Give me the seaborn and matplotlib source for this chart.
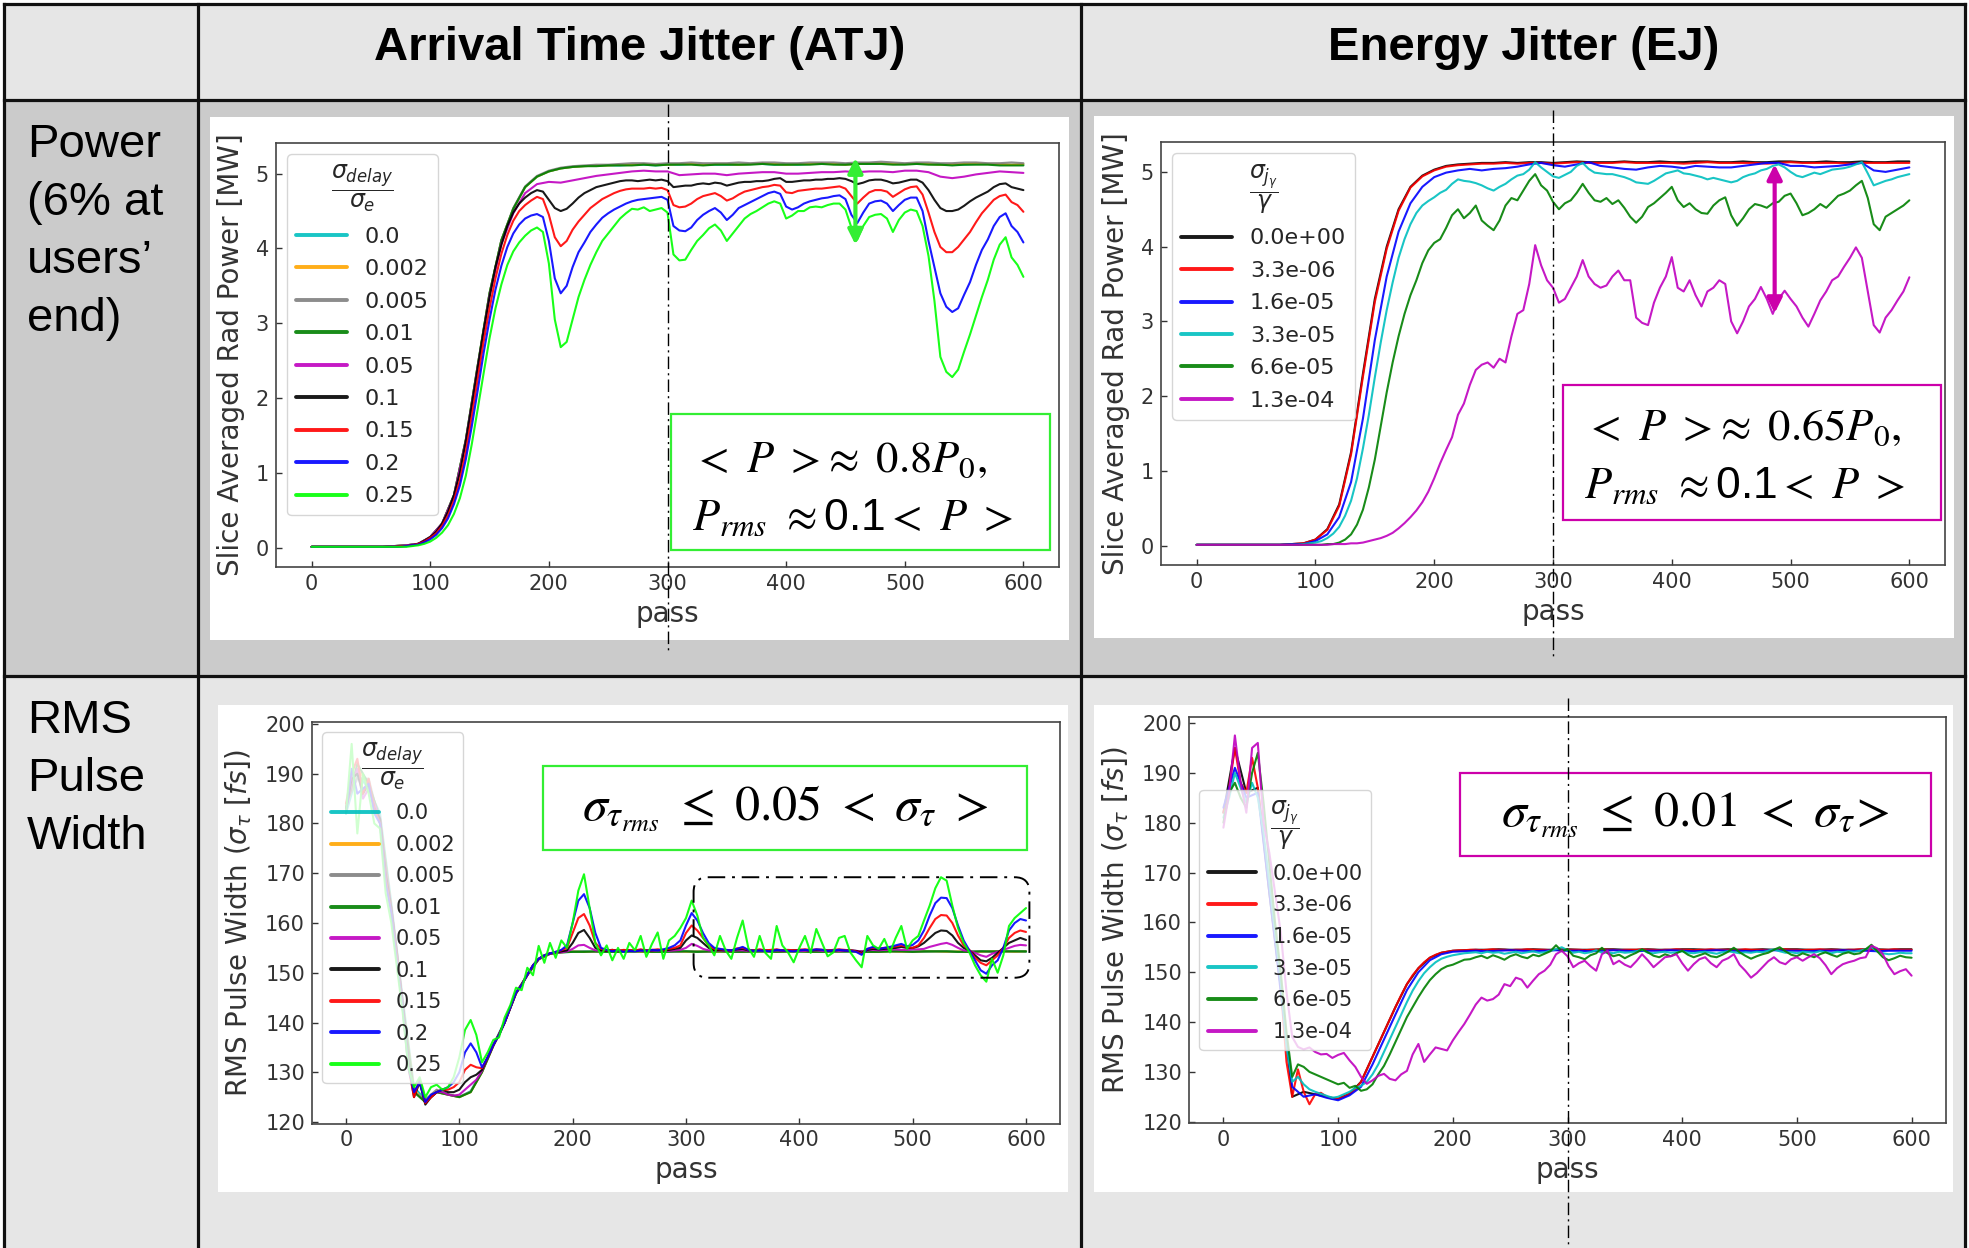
import numpy as np
import pandas as pd
import matplotlib
matplotlib.use("Agg")
import matplotlib.pyplot as plt
import matplotlib.transforms as mtransforms
from matplotlib.patches import Rectangle, FancyBboxPatch
from matplotlib.lines import Line2D
import seaborn as sns

W, H = 1969, 1248

# ---------------------------------------------------------------- x grids
pass_10 = np.arange(0, 601, 10)
pass_5 = np.arange(0, 601, 5)

# ---------------------------------------------------------------- series names / colours
atj_labels = ["0.0", "0.002", "0.005", "0.01", "0.05", "0.1", "0.15", "0.2", "0.25"]
atj_colors = ["#00bfbf", "#ffa500", "#808080", "#008000", "#bf00bf", "#000000", "#ff0000", "#0000ff", "#00ff00"]
ej_labels = ["0.0e+00", "3.3e-06", "1.6e-05", "3.3e-05", "6.6e-05", "1.3e-04"]
ej_colors = ["#000000", "#ff0000", "#0000ff", "#00bfbf", "#008000", "#bf00bf"]

# ---------------------------------------------------------------- ATJ: slice averaged power [MW]
atj_pw_0_0 = [0.01, 0.01, 0.01, 0.01, 0.01, 0.01, 0.01, 0.02, 0.03,
              0.05, 0.14, 0.32, 0.70, 1.44, 2.43, 3.40, 4.11, 4.53, 4.82, 4.96, 5.03, 5.07, 5.09, 5.10, 5.11, 5.11,
              5.11, 5.12, 5.12, 5.11, 5.12, 5.12, 5.13, 5.12, 5.12, 5.12, 5.12, 5.13, 5.13, 5.12, 5.12, 5.12, 5.13,
              5.13, 5.13, 5.12, 5.13, 5.13, 5.14, 5.13, 5.13, 5.13, 5.13, 5.12, 5.12, 5.12, 5.13, 5.13, 5.12, 5.12, 5.12]
atj_pw_0_002 = [0.01, 0.01, 0.01, 0.01, 0.01, 0.01, 0.01, 0.02, 0.03,
                0.05, 0.14, 0.32, 0.70, 1.44, 2.43, 3.40, 4.11, 4.53, 4.82, 4.96, 5.03, 5.07, 5.09, 5.10, 5.11, 5.11,
                5.12, 5.12, 5.13, 5.12, 5.12, 5.13, 5.13, 5.12, 5.13, 5.13, 5.12, 5.13, 5.14, 5.13, 5.12, 5.13, 5.13,
                5.14, 5.13, 5.12, 5.13, 5.14, 5.14, 5.13, 5.13, 5.14, 5.13, 5.12, 5.13, 5.13, 5.14, 5.13, 5.13, 5.12, 5.13]
atj_pw_0_005 = [0.01, 0.01, 0.01, 0.01, 0.01, 0.01, 0.01, 0.02, 0.03,
                0.05, 0.14, 0.32, 0.70, 1.44, 2.43, 3.40, 4.11, 4.54, 4.83, 4.97, 5.04, 5.08, 5.10, 5.11, 5.12, 5.12,
                5.13, 5.14, 5.14, 5.13, 5.14, 5.14, 5.15, 5.14, 5.14, 5.14, 5.15, 5.14, 5.15, 5.15, 5.14, 5.14, 5.15,
                5.15, 5.15, 5.14, 5.15, 5.15, 5.16, 5.15, 5.14, 5.15, 5.15, 5.14, 5.14, 5.15, 5.15, 5.14, 5.14, 5.15, 5.14]
atj_pw_0_01 = [0.01, 0.01, 0.01, 0.01, 0.01, 0.01, 0.01, 0.02, 0.03,
               0.05, 0.14, 0.32, 0.70, 1.44, 2.43, 3.40, 4.11, 4.53, 4.82, 4.96, 5.03, 5.07, 5.09, 5.10, 5.10, 5.11,
               5.11, 5.11, 5.12, 5.11, 5.12, 5.12, 5.12, 5.11, 5.12, 5.12, 5.12, 5.12, 5.13, 5.12, 5.12, 5.12, 5.12,
               5.13, 5.12, 5.12, 5.13, 5.13, 5.13, 5.12, 5.12, 5.13, 5.12, 5.12, 5.11, 5.12, 5.12, 5.12, 5.11, 5.11, 5.11]
atj_pw_0_05 = [0.01, 0.01, 0.01, 0.01, 0.01, 0.01, 0.01, 0.02, 0.03,
               0.05, 0.14, 0.32, 0.69, 1.42, 2.40, 3.36, 4.06, 4.47, 4.74, 4.86, 4.89, 4.88, 4.91, 4.94, 4.97, 4.99,
               5.01, 5.03, 5.04, 5.03, 5.03, 4.98, 4.99, 5.00, 5.00, 4.98, 5.00, 5.01, 5.02, 5.02, 5.00, 5.00, 5.01,
               5.02, 5.02, 5.03, 5.02, 5.03, 5.03, 5.02, 5.04, 5.04, 5.02, 4.96, 4.94, 4.96, 4.99, 5.01, 5.03, 5.02, 5.01]
atj_pw_0_1 = [0.01, 0.01, 0.01, 0.01, 0.01, 0.01, 0.01, 0.01, 0.01, 0.01, 0.01, 0.01, 0.01, 0.01, 0.01, 0.02, 0.02, 0.03,
              0.05, 0.09, 0.14, 0.21, 0.32, 0.48, 0.70, 1.00, 1.42, 1.90, 2.40, 2.90, 3.35, 3.75, 4.05, 4.30, 4.48,
              4.60, 4.68, 4.74, 4.78, 4.76, 4.65, 4.54, 4.50, 4.53, 4.60, 4.68, 4.74, 4.78, 4.82, 4.84, 4.86, 4.88,
              4.90, 4.91, 4.91, 4.90, 4.91, 4.92, 4.91, 4.92, 4.90,
              4.82, 4.83, 4.84, 4.84, 4.86, 4.87, 4.86, 4.88, 4.87, 4.84,
              4.86, 4.88, 4.89, 4.89, 4.90, 4.90, 4.91, 4.93, 4.94, 4.89,
              4.89, 4.90, 4.91, 4.91, 4.92, 4.92, 4.93, 4.93, 4.94, 4.93,
              4.90, 4.86, 4.88, 4.91, 4.92, 4.92, 4.90, 4.87, 4.88, 4.90,
              4.92, 4.92, 4.88, 4.78, 4.65, 4.54, 4.50, 4.50, 4.52, 4.57,
              4.63, 4.68, 4.72, 4.76, 4.82, 4.86, 4.87, 4.82, 4.80, 4.78]
atj_pw_0_15 = [0.01, 0.01, 0.01, 0.01, 0.01, 0.01, 0.01, 0.01, 0.01, 0.01, 0.01, 0.01, 0.01, 0.01, 0.01, 0.02, 0.02, 0.03,
               0.05, 0.08, 0.13, 0.19, 0.29, 0.43, 0.63, 0.90, 1.28, 1.75, 2.25, 2.75, 3.20, 3.60, 3.93, 4.18, 4.37,
               4.50, 4.58, 4.64, 4.69, 4.66, 4.45, 4.15, 4.03, 4.10, 4.25, 4.36, 4.45, 4.54, 4.60, 4.66, 4.70, 4.74,
               4.77, 4.79, 4.80, 4.80, 4.80, 4.81, 4.80, 4.81, 4.78,
               4.58, 4.55, 4.56, 4.60, 4.66, 4.70, 4.72, 4.74, 4.70, 4.64,
               4.67, 4.72, 4.76, 4.78, 4.80, 4.82, 4.83, 4.85, 4.84, 4.75,
               4.74, 4.77, 4.78, 4.79, 4.80, 4.80, 4.81, 4.82, 4.83, 4.80,
               4.70, 4.60, 4.68, 4.75, 4.78, 4.78, 4.76, 4.69, 4.74, 4.79,
               4.82, 4.83, 4.72, 4.48, 4.22, 4.02, 3.95, 3.95, 4.02, 4.12,
               4.22, 4.35, 4.47, 4.56, 4.65, 4.70, 4.72, 4.62, 4.58, 4.49]
atj_pw_0_2 = [0.01, 0.01, 0.01, 0.01, 0.01, 0.01, 0.01, 0.01, 0.01, 0.01, 0.01, 0.01, 0.01, 0.01, 0.01, 0.01, 0.02, 0.03,
              0.04, 0.07, 0.11, 0.17, 0.26, 0.39, 0.58, 0.83, 1.18, 1.62, 2.10, 2.60, 3.05, 3.45, 3.77, 4.02, 4.20,
              4.32, 4.40, 4.44, 4.46, 4.42, 4.10, 3.60, 3.40, 3.50, 3.75, 3.95, 4.08, 4.22, 4.32, 4.41, 4.47, 4.52,
              4.56, 4.60, 4.63, 4.65, 4.66, 4.67, 4.68, 4.69, 4.65,
              4.30, 4.24, 4.23, 4.28, 4.38, 4.45, 4.50, 4.54, 4.48, 4.38,
              4.45, 4.54, 4.58, 4.62, 4.66, 4.70, 4.74, 4.76, 4.73, 4.56,
              4.52, 4.55, 4.60, 4.63, 4.65, 4.67, 4.68, 4.70, 4.71, 4.66,
              4.45, 4.34, 4.48, 4.60, 4.63, 4.64, 4.60, 4.50, 4.58, 4.65,
              4.68, 4.68, 4.50, 4.10, 3.75, 3.40, 3.22, 3.15, 3.20, 3.38,
              3.55, 3.78, 3.98, 4.12, 4.30, 4.42, 4.47, 4.30, 4.22, 4.08]
atj_pw_0_25 = [0.01, 0.01, 0.01, 0.01, 0.01, 0.01, 0.01, 0.01, 0.01, 0.01, 0.01, 0.01, 0.01, 0.01, 0.01, 0.01, 0.01, 0.02,
               0.03, 0.05, 0.08, 0.13, 0.20, 0.30, 0.45, 0.66, 0.96, 1.38, 1.85, 2.33, 2.80, 3.20, 3.52, 3.78, 3.96,
               4.08, 4.17, 4.24, 4.28, 4.22, 3.80, 3.05, 2.68, 2.75, 3.05, 3.35, 3.58, 3.78, 3.95, 4.10, 4.20, 4.30,
               4.40, 4.47, 4.53, 4.52, 4.55, 4.50, 4.52, 4.54, 4.48,
               3.92, 3.84, 3.85, 3.98, 4.10, 4.18, 4.27, 4.32, 4.24, 4.10,
               4.20, 4.30, 4.40, 4.46, 4.50, 4.55, 4.60, 4.63, 4.60, 4.40,
               4.44, 4.50, 4.50, 4.55, 4.56, 4.55, 4.58, 4.60, 4.60, 4.52,
               4.28, 4.12, 4.30, 4.42, 4.45, 4.46, 4.40, 4.22, 4.38, 4.48,
               4.52, 4.50, 4.30, 3.90, 3.30, 2.55, 2.35, 2.28, 2.38, 2.62,
               2.85, 3.10, 3.35, 3.58, 3.85, 4.05, 4.15, 3.88, 3.78, 3.62]

# ---------------------------------------------------------------- EJ: slice averaged power [MW]
ej_pw_0 = [0.01, 0.01, 0.01, 0.01, 0.01, 0.01, 0.01, 0.01, 0.02,
           0.03, 0.08, 0.22, 0.55, 1.25, 2.30, 3.30, 4.00, 4.50, 4.80, 4.95, 5.03, 5.08, 5.10, 5.11, 5.12, 5.12,
           5.13, 5.12, 5.13, 5.13, 5.12, 5.13, 5.14, 5.13, 5.13, 5.13, 5.14, 5.13, 5.13, 5.14, 5.13, 5.13, 5.14,
           5.14, 5.13, 5.13, 5.14, 5.13, 5.13, 5.14, 5.14, 5.13, 5.13, 5.14, 5.13, 5.13, 5.14, 5.13, 5.13, 5.14, 5.14]
ej_pw_3_3e6 = [0.01, 0.01, 0.01, 0.01, 0.01, 0.01, 0.01, 0.01, 0.02,
               0.03, 0.08, 0.21, 0.53, 1.22, 2.26, 3.26, 3.97, 4.48, 4.79, 4.94, 5.02, 5.07, 5.09, 5.10, 5.11, 5.11,
               5.12, 5.11, 5.12, 5.12, 5.11, 5.12, 5.13, 5.12, 5.12, 5.12, 5.13, 5.12, 5.12, 5.12, 5.12, 5.11, 5.12,
               5.13, 5.12, 5.12, 5.12, 5.12, 5.11, 5.12, 5.13, 5.12, 5.12, 5.12, 5.12, 5.11, 5.12, 5.12, 5.12, 5.12, 5.12]
ej_pw_1_6e5 = [0.01, 0.01, 0.01, 0.01, 0.01, 0.01, 0.01, 0.01, 0.02,
               0.02, 0.06, 0.15, 0.38, 0.85, 1.70, 2.75, 3.60, 4.20, 4.58, 4.80, 4.93, 4.99, 5.02, 5.04, 5.02, 5.04,
               5.05, 5.07, 5.10, 5.12, 5.09, 5.07, 5.10, 5.13, 5.08, 5.06, 5.04, 5.03, 5.06, 5.08, 5.07, 5.05, 5.08,
               5.07, 5.06, 5.06, 5.08, 5.10, 5.12, 5.12, 5.08, 5.08, 5.06, 5.07, 5.08, 5.10, 5.12, 5.02, 5.00, 5.03, 5.06]
ej_pw_3_3e5 = [0.01, 0.01, 0.01, 0.01, 0.01, 0.01, 0.01, 0.01, 0.01, 0.01, 0.01, 0.01, 0.01, 0.01, 0.01, 0.01, 0.01, 0.01,
               0.02, 0.03,
               0.04, 0.06, 0.10, 0.16, 0.25, 0.40, 0.60, 0.90, 1.30, 1.75, 2.25, 2.72, 3.15, 3.52, 3.85, 4.10, 4.30,
               4.45, 4.55, 4.61,
               4.66, 4.72, 4.76, 4.84, 4.90, 4.88, 4.87, 4.85, 4.82, 4.78,
               4.75, 4.80, 4.84, 4.90, 4.95, 4.97, 5.03, 5.13, 5.06, 5.00,
               4.94, 4.92, 4.96, 5.00, 5.08, 5.12, 5.04, 4.99, 4.98, 4.97,
               4.97, 4.95, 4.93, 4.90, 4.86, 4.85, 4.84, 4.88, 4.93, 4.98,
               5.00, 5.02, 4.98, 4.97, 4.95, 4.93, 4.90, 4.92, 4.90, 4.88,
               4.86, 4.88, 4.93, 4.96, 4.98, 5.02, 5.04, 5.08, 5.10, 5.06,
               5.00, 4.95, 4.93, 4.96, 4.99, 4.97, 5.00, 5.03, 5.04, 5.05,
               5.07, 5.10, 5.13, 4.98, 4.82, 4.85, 4.88, 4.90, 4.93, 4.95,
               4.97]
ej_pw_6_6e5 = [0.01, 0.01, 0.01, 0.01, 0.01, 0.01, 0.01, 0.01, 0.01, 0.01, 0.01, 0.01, 0.01, 0.01, 0.01, 0.01, 0.01, 0.01,
               0.01, 0.01,
               0.01, 0.01, 0.02, 0.02, 0.04, 0.08, 0.15, 0.28, 0.48, 0.78, 1.15, 1.60, 2.05, 2.45, 2.80, 3.10, 3.35,
               3.55, 3.78, 3.95,
               4.05, 4.10, 4.25, 4.42, 4.50, 4.38, 4.45, 4.55, 4.35, 4.28,
               4.22, 4.35, 4.55, 4.65, 4.62, 4.75, 4.88, 4.97, 4.82, 4.75,
               4.60, 4.50, 4.58, 4.62, 4.72, 4.84, 4.72, 4.62, 4.60, 4.65,
               4.57, 4.62, 4.52, 4.40, 4.32, 4.40, 4.53, 4.58, 4.65, 4.72,
               4.80, 4.62, 4.53, 4.58, 4.50, 4.45, 4.44, 4.55, 4.62, 4.66,
               4.42, 4.28, 4.38, 4.50, 4.57, 4.55, 4.52, 4.58, 4.60, 4.68,
               4.71, 4.58, 4.42, 4.45, 4.50, 4.57, 4.52, 4.60, 4.68, 4.71,
               4.75, 4.82, 4.88, 4.65, 4.30, 4.22, 4.40, 4.45, 4.50, 4.55,
               4.62]
ej_pw_1_3e4 = [0.01, 0.01, 0.01, 0.01, 0.01, 0.01, 0.01, 0.01, 0.01, 0.01, 0.01, 0.01, 0.01, 0.01, 0.01, 0.01, 0.01, 0.01,
               0.01, 0.01,
               0.01, 0.01, 0.01, 0.02, 0.02, 0.02, 0.03, 0.03, 0.04, 0.06, 0.08, 0.10, 0.13, 0.17, 0.23, 0.30, 0.38,
               0.47, 0.58, 0.72,
               0.90, 1.10, 1.28, 1.45, 1.75, 1.90, 2.15, 2.35, 2.42, 2.45,
               2.38, 2.50, 2.45, 2.80, 3.10, 3.15, 3.50, 4.02, 3.75, 3.55,
               3.45, 3.25, 3.30, 3.45, 3.60, 3.82, 3.60, 3.50, 3.45, 3.48,
               3.60, 3.68, 3.55, 3.55, 3.05, 2.98, 2.95, 3.25, 3.45, 3.60,
               3.86, 3.45, 3.40, 3.55, 3.35, 3.20, 3.40, 3.45, 3.55, 3.50,
               3.00, 2.84, 3.00, 3.20, 3.30, 3.46, 3.30, 3.10, 3.30, 3.41,
               3.30, 3.20, 3.05, 2.93, 3.10, 3.28, 3.40, 3.55, 3.60, 3.73,
               3.85, 3.99, 3.85, 3.40, 2.95, 2.85, 3.05, 3.15, 3.28, 3.40,
               3.59]

# ---------------------------------------------------------------- ATJ: RMS pulse width [fs]
atj_rms_0_0 = [182, 190, 187, 182, 164, 145, 127, 124.5, 126, 125.5,
               125, 126.2, 130.2, 135.5, 140.2, 146, 149.6, 152.8, 153.8, 154.1,
               154.2, 154.3, 154.2, 154.2, 154.3, 154.2, 154.3, 154.3, 154.2, 154.2,
               154.3, 154.2, 154.2, 154.3, 154.3, 154.2, 154.2, 154.3, 154.2, 154.3,
               154.2, 154.3, 154.3, 154.2, 154.2, 154.3, 154.3, 154.2, 154.3, 154.2,
               154.3, 154.2, 154.3, 154.3, 154.2, 154.2, 154.3, 154.2, 154.3, 154.3,
               154.2]
atj_rms_0_002 = [183, 191, 188, 181, 163, 144, 126.5, 124, 126, 125.5,
                 125, 126, 130, 135.3, 140, 145.8, 149.5, 152.7, 153.8, 154.1,
                 154.3, 154.2, 154.2, 154.3, 154.2, 154.3, 154.2, 154.2, 154.3, 154.3,
                 154.2, 154.3, 154.2, 154.2, 154.3, 154.2, 154.3, 154.3, 154.2, 154.2,
                 154.3, 154.2, 154.3, 154.2, 154.3, 154.3, 154.2, 154.2, 154.3, 154.2,
                 154.2, 154.3, 154.3, 154.2, 154.3, 154.2, 154.2, 154.3, 154.3, 154.2,
                 154.3]
atj_rms_0_005 = [184, 189, 189, 180, 162, 143, 126, 124.5, 126.5, 125.6,
                 125.1, 126.1, 130.1, 135.4, 140.1, 145.9, 149.6, 152.8, 153.9, 154.2,
                 154.3, 154.3, 154.2, 154.3, 154.3, 154.2, 154.3, 154.3, 154.3, 154.2,
                 154.3, 154.3, 154.2, 154.3, 154.3, 154.3, 154.2, 154.3, 154.3, 154.2,
                 154.3, 154.3, 154.3, 154.2, 154.3, 154.3, 154.2, 154.3, 154.3, 154.3,
                 154.2, 154.3, 154.3, 154.3, 154.2, 154.3, 154.3, 154.2, 154.3, 154.3,
                 154.3]
atj_rms_0_01 = [183, 192, 188, 181, 163, 144, 126, 124, 126, 125.5,
                125, 126, 130, 135.3, 140, 145.8, 149.5, 152.7, 153.8, 154.1,
                154.2, 154.2, 154.3, 154.2, 154.2, 154.3, 154.3, 154.2, 154.2, 154.3,
                154.3, 154.2, 154.3, 154.3, 154.2, 154.2, 154.3, 154.3, 154.2, 154.3,
                154.3, 154.2, 154.2, 154.3, 154.3, 154.3, 154.2, 154.2, 154.3, 154.3,
                154.2, 154.3, 154.3, 154.3, 154.2, 154.2, 154.3, 154.3, 154.3, 154.3,
                154.3]
atj_rms_0_05 = [183, 188, 191, 185, 187, 184, 181, 171, 163, 154, 144, 132, 126, 128, 124, 125, 126, 126, 125.5, 125.3,
                125.5, 126.5, 127.5, 128.5, 130.3, 133, 135.4, 137.5, 140, 143, 145.9, 147.6, 149.5, 151.4, 152.7,
                153.4, 153.8, 154, 154.1, 154.3,
                154.8, 155.5, 155.6, 155.0, 154.5, 154.4, 154.4, 154.5, 154.4, 154.4,
                154.5, 154.4, 154.4, 154.5, 154.4, 154.5, 154.5, 154.4, 154.5, 154.6,
                155.0, 155.8, 155.4, 154.8, 154.5, 154.4, 154.5, 154.4, 154.4, 154.5,
                154.5, 154.4, 154.4, 154.5, 154.4, 154.4, 154.5, 154.4, 154.4, 154.5,
                154.4, 154.4, 154.5, 154.5, 154.4, 154.4, 154.5, 154.4, 154.4, 154.5,
                154.4, 154.3, 154.5, 154.6, 154.5, 154.6, 154.6, 154.7, 154.6, 154.6,
                154.7, 154.7, 154.8, 155.2, 155.5, 155.8, 156.0, 155.6, 155.0, 154.5,
                154.4, 154.0, 153.5, 153.2, 153.8, 154.2, 154.6, 155.0, 155.4, 155.6,
                155.5]
atj_rms_0_1 = [183, 189, 190, 186, 188, 183, 181, 170, 163, 154, 144, 132, 125, 128, 123.5, 125, 126, 126.5, 126, 126,
               126.5, 128, 129, 129.5, 130.5, 133, 135.5, 137.5, 140, 143, 146, 147.6, 149.6, 151.5, 152.8, 153.5,
               153.9, 154.1, 154.3, 154.5,
               156.0, 158.0, 158.6, 157.0, 155.0, 154.5, 154.4, 154.6, 154.4, 154.5,
               154.5, 154.4, 154.6, 154.5, 154.5, 154.6, 154.5, 154.6, 154.8, 155.0,
               156.5, 157.5, 157.0, 156.0, 155.0, 154.5, 154.6, 154.5, 154.5, 154.7,
               154.8, 154.5, 154.5, 154.6, 154.5, 154.5, 154.6, 154.5, 154.5, 154.5,
               154.6, 154.6, 154.5, 154.6, 154.6, 154.5, 154.5, 154.6, 154.5, 154.5,
               154.4, 154.0, 154.6, 154.8, 154.7, 154.8, 154.9, 155.0, 155.2, 155.0,
               155.0, 155.3, 156.0, 157.0, 158.0, 158.5, 158.4, 157.5, 156.0, 155.0,
               154.5, 153.5, 152.5, 152.3, 153.0, 154.0, 155.0, 156.0, 156.5, 157.0,
               156.6]
atj_rms_0_15 = [184, 190, 193, 186, 189, 183, 180, 169, 162, 153, 143, 131, 125, 128.5, 123.8, 125, 126, 126.5, 126.5, 127,
                128, 130.5, 131.5, 131, 130.8, 133, 135.5, 137.6, 140, 143, 146, 147.6, 149.6, 151.5, 152.8, 153.5,
                153.9, 154.2, 154.5, 155.0,
                158.0, 161.0, 161.8, 159.5, 156.0, 154.8, 154.5, 154.6, 154.4, 154.6,
                154.5, 154.5, 154.7, 154.5, 154.6, 154.7, 154.6, 154.8, 155.0, 155.5,
                158.0, 159.5, 158.5, 157.0, 155.5, 154.8, 154.7, 154.6, 154.5, 154.9,
                155.0, 154.6, 154.5, 154.7, 154.5, 154.6, 154.7, 154.5, 154.6, 154.5,
                154.6, 154.7, 154.6, 154.7, 154.6, 154.5, 154.6, 154.7, 154.6, 154.5,
                154.3, 153.8, 154.8, 155.0, 154.9, 155.0, 155.1, 155.3, 155.5, 155.2,
                155.0, 155.5, 157.0, 159.0, 160.8, 161.6, 161.5, 160.0, 157.5, 155.5,
                154.6, 153.0, 152.0, 151.5, 152.5, 153.5, 155.0, 157.0, 158.0, 158.5,
                158.2]
atj_rms_0_2 = [182, 191, 186, 187, 188, 182, 180, 168, 162, 152, 143, 131, 126, 128, 124, 125.5, 126, 126.5, 127, 128,
               130, 134, 135.8, 134, 131, 133, 135.5, 137.5, 140, 143, 146, 147.5, 149.6, 151.5, 152.8, 153.5, 153.9,
               154.2, 154.6, 155.5,
               160.0, 164.5, 165.8, 163.0, 158.0, 155.0, 154.6, 154.3, 154.5, 154.2,
               154.4, 154.3, 154.5, 154.4, 154.6, 154.5, 154.7, 155.0, 155.5, 156.5,
               159.5, 162.0, 160.5, 158.0, 156.0, 155.0, 154.8, 154.6, 154.5, 154.8,
               155.2, 154.6, 154.4, 154.5, 154.4, 154.3, 154.6, 154.5, 154.4, 154.3,
               154.5, 154.6, 154.5, 154.7, 154.6, 154.4, 154.5, 154.6, 154.5, 154.4,
               154.2, 153.6, 154.8, 155.2, 154.8, 155.0, 155.2, 155.5, 155.8, 155.3,
               155.6, 156.5, 158.5, 161.5, 164.0, 165.1, 165.0, 163.0, 159.5, 156.5,
               154.5, 152.5, 150.5, 149.8, 151.5, 152.5, 155.0, 158.5, 160.0, 160.8,
               160.5]
atj_rms_0_25 = [182, 196, 178, 190, 186, 180, 179, 166, 160, 151, 142, 131, 127, 129, 125, 127, 127.5, 126.5, 127, 129,
                133, 138.5, 140.5, 137.5, 132, 134, 136.5, 137, 141, 143.5, 147, 146.5, 151, 149.5, 155.4, 152, 156,
                153, 156.5, 155,
                160.0, 166.5, 169.8, 163.0, 156.0, 153.5, 155.5, 152.5, 155.0, 152.8,
                156.0, 154.5, 157.4, 153.2, 155.8, 158.1, 152.8, 156.5, 157.4, 159.0,
                161.0, 164.5, 161.5, 157.0, 155.5, 153.5, 157.4, 154.5, 152.8, 157.0,
                160.5, 155.0, 153.2, 157.4, 154.0, 152.8, 159.4, 155.5, 154.1, 152.1,
                155.0, 157.4, 154.0, 158.8, 156.0, 153.3, 154.1, 157.0, 157.4, 154.1,
                152.5, 151.1, 157.4, 155.5, 154.8, 156.8, 154.1, 157.0, 159.4, 154.8,
                156.5, 157.4, 160.5, 163.5, 167.0, 169.2, 168.5, 163.5, 159.0, 156.0,
                154.1, 151.5, 149.5, 148.2, 152.8, 150.0, 153.5, 159.4, 161.0, 162.0,
                163.0]

# ---------------------------------------------------------------- EJ: RMS pulse width [fs]
ej_rms_0 = [182, 195, 186, 187, 166, 147, 125, 126, 125.5, 125,
            124.6, 125.6, 128, 133, 138, 143, 147.6, 150.8, 152.9, 153.9,
            154.3, 154.4, 154.5, 154.5, 154.6, 154.5, 154.5, 154.6, 154.5, 154.5,
            154.6, 154.5, 154.5, 154.6, 154.6, 154.5, 154.5, 154.6, 154.5, 154.5,
            154.6, 154.6, 154.5, 154.5, 154.6, 154.5, 154.5, 154.6, 154.5, 154.6,
            154.6, 154.5, 154.5, 154.6, 154.5, 154.5, 154.6, 154.6, 154.5, 154.6,
            154.6]
ej_rms_3_3e6 = [182, 187, 195, 188, 186, 193, 187, 177, 167, 157, 147, 132, 125, 130.5, 126, 123.5, 125.5, 125.8, 125,
                124.6, 124.6, 125, 125.6, 126.5, 128, 130.5, 133, 135.5, 138, 140.5, 143, 145.4, 147.6, 149.4, 150.8,
                152, 152.9, 153.5, 153.9, 154.1, 154.3, 154.4, 154.4,
                154.5, 154.5, 154.4, 154.5, 154.6, 154.5, 154.5, 154.4, 154.5, 154.5,
                154.6, 154.5, 154.5, 154.5, 154.4, 154.5, 154.6, 154.5, 154.5, 154.5,
                154.4, 154.5, 154.5, 154.6, 154.5, 154.5, 154.4, 154.5, 154.5, 154.5,
                154.6, 154.5, 154.5, 154.4, 154.5, 154.5, 154.6, 154.5, 154.5, 154.4,
                154.5, 154.5, 154.6, 154.5, 154.5, 154.5, 154.4, 154.5, 154.6, 154.5,
                154.5, 154.5, 154.4, 154.5, 154.5, 154.6, 154.5, 154.5, 154.4, 154.5,
                154.5, 154.6, 154.5, 154.5, 154.5, 154.4, 154.5, 154.5, 154.6, 154.5,
                154.5, 154.4, 154.5, 154.5, 154.6, 154.5, 154.5, 154.5]
ej_rms_1_6e5 = [183, 191, 185, 186, 166, 146, 127, 125, 125.5, 124.8,
                124.3, 125.3, 127, 131.5, 136.5, 141.5, 146.4, 150, 152.4, 153.6,
                154.1, 154.2, 154.3, 154.2, 154.3, 154.4, 154.3, 154.2, 154.3, 154.4,
                154.3, 154.3, 154.2, 154.3, 154.4, 154.3, 154.2, 154.3, 154.3, 154.4,
                154.3, 154.2, 154.3, 154.4, 154.3, 154.3, 154.2, 154.3, 154.4, 154.3,
                154.3, 154.2, 154.3, 154.3, 154.4, 154.3, 154.3, 154.2, 154.3, 154.3,
                154.3]
ej_rms_3_3e5 = [181, 185, 190, 187, 184, 188, 185, 178, 168, 158, 148, 135, 128, 129, 127.5, 126.5, 126, 125.6, 125.2,
                124.8,
                125, 125.5, 126, 126.8, 127.2, 128, 129.5, 131.5, 134, 136.5, 139, 141.5, 144, 146.3, 148.2, 149.8,
                151, 152, 152.7, 153.1,
                153.4, 153.6, 153.8, 153.9, 154.0, 153.8, 154.1, 153.9, 154.0, 153.7,
                153.9, 154.1, 153.8, 154.0, 154.2, 153.9, 154.0, 154.3, 154.6, 155.0,
                154.4, 153.9, 154.1, 153.8, 154.0, 154.4, 153.9, 154.0, 153.8, 154.1,
                153.9, 154.0, 154.2, 154.5, 153.9, 153.8, 154.0, 154.1, 153.9, 154.0,
                154.2, 153.9, 153.8, 154.0, 154.1, 153.9, 153.7, 154.0, 154.2, 154.0,
                153.8, 154.0, 153.9, 154.1, 154.0, 154.3, 154.6, 154.2, 153.9, 154.0,
                153.8, 154.1, 154.0, 153.9, 154.2, 154.0, 153.8, 154.1, 154.0, 154.2,
                154.1, 154.3, 154.6, 155.0, 154.2, 153.8, 153.6, 153.7, 153.9, 153.8,
                153.8]
ej_rms_6_6e5 = [180, 186, 188, 185, 183, 190, 194, 184, 172, 160, 150, 138, 129, 131.5, 131, 130, 129.5, 129, 128.5, 128,
                127.5, 127.8, 126.8, 127.2, 126.2, 126.5, 127.5, 129.5, 131.2, 133.5, 136, 138.5, 141, 143, 145,
                146.8, 148.4, 149.6, 150.6, 151.2,
                151.5, 152.0, 152.5, 152.6, 153.0, 153.3, 152.8, 153.4, 153.0, 152.5,
                153.2, 153.6, 153.1, 152.8, 153.5, 153.2, 153.7, 154.2, 155.4, 154.2,
                154.6, 153.3, 153.0, 152.6, 153.4, 153.8, 154.9, 153.8, 153.2, 153.5,
                152.8, 153.4, 153.9, 154.6, 154.0, 153.3, 153.0, 153.6, 153.2, 153.8,
                154.3, 153.5, 153.0, 153.4, 153.8, 153.2, 153.0, 153.5, 154.1, 154.9,
                154.0, 153.3, 152.7, 153.2, 153.6, 153.9, 154.5, 155.0, 154.2, 153.5,
                153.2, 153.8, 153.4, 153.0, 153.6, 154.0, 153.5, 153.1, 153.7, 154.0,
                153.6, 153.8, 154.6, 155.5, 154.2, 153.0, 152.4, 152.8, 153.3, 153.0,
                152.9]
ej_rms_1_3e4 = [179, 186, 197.5, 188, 182, 195, 196, 180, 174, 166, 158, 146, 137, 135, 134.5, 134.9, 134, 133.5, 133.6,
                132.8,
                133.4, 133.8, 132.3, 131.0, 129.0, 127.6, 128.3, 129.2, 129.6, 128.6, 128.3, 129.5, 130.2, 133.5, 135.6,
                132.0, 133.5, 134.9, 134.6, 134.3,
                136.3, 138.0, 139.6, 141.5, 143.5, 144.9, 144.3, 144.6, 145.5, 147.6,
                147.2, 148.9, 148.5, 146.9, 148.3, 149.6, 150.3, 151.5, 153.6, 154.3,
                153.2, 151.0, 151.8, 152.3, 151.2, 150.3, 153.6, 154.3, 151.6, 152.3,
                151.5, 151.0, 152.2, 153.6, 152.4, 151.0, 152.0, 153.0, 153.2, 153.6,
                151.8, 150.3, 151.6, 152.6, 153.0, 151.8, 151.0, 152.3, 152.8, 153.6,
                151.5, 150.3, 148.9, 149.8, 151.0, 152.2, 153.0, 152.0, 151.6, 152.6,
                153.0, 152.3, 153.0, 153.6, 152.8, 151.4, 149.6, 150.8, 151.6, 152.0,
                152.3, 152.8, 153.0, 155.3, 154.8, 153.6, 151.2, 149.6, 150.2, 150.6,
                149.3]

# ---------------------------------------------------------------- panel contents
atj_power = [(pass_10, atj_pw_0_0), (pass_10, atj_pw_0_002), (pass_10, atj_pw_0_005), (pass_10, atj_pw_0_01),
             (pass_10, atj_pw_0_05), (pass_5, atj_pw_0_1), (pass_5, atj_pw_0_15), (pass_5, atj_pw_0_2),
             (pass_5, atj_pw_0_25)]
ej_power = [(pass_10, ej_pw_0), (pass_10, ej_pw_3_3e6), (pass_10, ej_pw_1_6e5), (pass_5, ej_pw_3_3e5),
            (pass_5, ej_pw_6_6e5), (pass_5, ej_pw_1_3e4)]
atj_rms = [(pass_10, atj_rms_0_0), (pass_10, atj_rms_0_002), (pass_10, atj_rms_0_005), (pass_10, atj_rms_0_01),
           (pass_5, atj_rms_0_05), (pass_5, atj_rms_0_1), (pass_5, atj_rms_0_15), (pass_5, atj_rms_0_2),
           (pass_5, atj_rms_0_25)]
ej_rms = [(pass_10, ej_rms_0), (pass_5, ej_rms_3_3e6), (pass_10, ej_rms_1_6e5), (pass_5, ej_rms_3_3e5),
          (pass_5, ej_rms_6_6e5), (pass_5, ej_rms_1_3e4)]

LIME_BOX = "#33ee33"
MAG_BOX = "#cc00aa"

# ---------------------------------------------------------------- style
sns.set_theme(style="white", color_codes=False)
plt.rcParams["font.family"] = ["DejaVu Sans"]
plt.rcParams["mathtext.fontset"] = "dejavusans"
plt.rcParams["axes.linewidth"] = 1.2

fig = plt.figure(figsize=(W / 100, H / 100), dpi=100)
px = mtransforms.Affine2D().scale(1.0 / W, -1.0 / H).translate(0, 1) + fig.transFigure

# ---------------------------------------------------------------- table background
bg = fig.add_axes([0, 0, 1, 1], zorder=-10)
bg.set_xlim(0, W)
bg.set_ylim(H, 0)
bg.axis("off")


def cell(x0, y0, x1, y1, fc):
    bg.add_patch(Rectangle((x0, y0), x1 - x0, y1 - y0, facecolor=fc, edgecolor="none"))


cell(0, 0, W, H, "white")
cell(4, 4, 1965, 100, "#e6e6e6")
cell(4, 100, 1965, 676, "#cbcbcb")
cell(4, 676, 1965, H, "#e6e6e6")
for box in [(210, 117, 1069, 640), (1094, 116, 1954, 638), (218, 705, 1068, 1192), (1094, 705, 1953, 1192)]:
    cell(*box, "white")

rule = dict(color="#111111", lw=2.3, solid_capstyle="projecting")
for xv in (4, 198, 1081, 1965):
    bg.plot([xv, xv], [4, H + 5], **rule)
for yv in (4, 100, 676):
    bg.plot([4, 1965], [yv, yv], **rule)

table_font = ["Liberation Sans", "DejaVu Sans"]
bg.text(639.5, 60, "Arrival Time Jitter (ATJ)", fontsize=34, fontweight="bold", family=table_font,
        ha="center", va="baseline", color="black")
bg.text(1523.5, 60, "Energy Jitter (EJ)", fontsize=34, fontweight="bold", family=table_font,
        ha="center", va="baseline", color="black")
for txt, yb in zip(["Power", "(6% at", "users\u2019", "end)"], [157, 215, 273, 331]):
    bg.text(27, yb, txt, fontsize=34, family=table_font, ha="left", va="baseline", color="black")
for txt, yb in zip(["RMS", "Pulse", "Width"], [733, 791, 849]):
    bg.text(27, yb, txt, fontsize=34, family=table_font, ha="left", va="baseline", color="black")


# ---------------------------------------------------------------- panels
def axes_px(x0, y0, x1, y1):
    return fig.add_axes([x0 / W, 1 - y1 / H, (x1 - x0) / W, (y1 - y0) / H])


def draw_panel(ax, series, labels, colors, ylim, yticks, ylabel, leg_title, leg_loc, leg_size, leg_space):
    frames = []
    for (xv, yv), lab in zip(series, labels):
        if len(xv) != len(yv):
            raise ValueError(f"length mismatch for {lab}: {len(xv)} vs {len(yv)}")
        frames.append(pd.DataFrame({"pass": xv, "value": yv, "series": lab}))
    df = pd.concat(frames, ignore_index=True)
    sns.lineplot(data=df, x="pass", y="value", hue="series", hue_order=labels,
                 palette=dict(zip(labels, colors)), estimator=None, sort=False,
                 lw=1.5, alpha=0.9, legend=False, ax=ax)
    ax.set_xlim(-30, 630)
    ax.set_ylim(*ylim)
    ax.set_xticks(range(0, 601, 100))
    ax.set_yticks(yticks)
    ax.tick_params(direction="in", length=4, width=1, labelsize=15, colors="#333333",
                   bottom=True, left=True, top=False, right=False, pad=5)
    for sp in ax.spines.values():
        sp.set_visible(True)
        sp.set_color("#444444")
        sp.set_linewidth(1.2)
    ax.set_facecolor("white")
    ax.set_xlabel("pass", fontsize=20, color="#333333")
    ax.set_ylabel(ylabel, fontsize=20, color="#333333", labelpad=8)
    handles = [Line2D([], [], color=c, lw=2.8, alpha=0.9) for c in colors]
    ax.legend(handles, labels, title=leg_title, loc=leg_loc, fontsize=leg_size, title_fontsize=17,
              handlelength=2.3, labelspacing=leg_space, frameon=True, framealpha=0.8,
              edgecolor="#cccccc", fancybox=True)


ax_tl = axes_px(276, 143, 1059, 567)
draw_panel(ax_tl, atj_power, atj_labels, atj_colors, (-0.26, 5.41), range(0, 6),
           "Slice Averaged Rad Power [MW]", r"$\dfrac{\sigma_{delay}}{\sigma_e}$", "upper left", 16, 0.56)

ax_tr = axes_px(1161, 142, 1945, 565)
draw_panel(ax_tr, ej_power, ej_labels, ej_colors, (-0.26, 5.40), range(0, 6),
           "Slice Averaged Rad Power [MW]", r"$\dfrac{\sigma_{j_{\gamma}}}{\gamma}$", "upper left", 16, 0.56)

ax_bl = axes_px(312, 722, 1060, 1123.5)
draw_panel(ax_bl, atj_rms, atj_labels, atj_colors, (119.7, 200.4), range(120, 201, 10),
           r"RMS Pulse Width ($\sigma_\tau$ [$fs$])", r"$\dfrac{\sigma_{delay}}{\sigma_e}$", "upper left", 15, 0.55)

ax_br = axes_px(1189, 717, 1946, 1123.2)
draw_panel(ax_br, ej_rms, ej_labels, ej_colors, (119.7, 201.2), range(120, 201, 10),
           r"RMS Pulse Width ($\sigma_\tau$ [$fs$])", r"$\dfrac{\sigma_{j_{\gamma}}}{\gamma}$", "center left", 15, 0.56)

# ---------------------------------------------------------------- annotations
math_kw = dict(math_fontfamily="stix", color="black")

# ATJ power
ax_tl.add_patch(Rectangle((302.7, -0.035), 319.5, 1.815, fill=False, edgecolor=LIME_BOX, lw=1.6, zorder=5))
ax_tl.text(321, 1.01, r"$<\ P\ >\!\approx\ 0.8P_0,$", fontsize=32, ha="left", va="baseline", **math_kw)
ax_tl.text(321, 0.24, r"$P_{rms}$ $\approx$0.1$<\ P\ >$", fontsize=32, ha="left", va="baseline",
           family=table_font, **math_kw)
ax_tl.annotate("", xy=(458.4, 5.21), xytext=(458.4, 4.05),
               arrowprops=dict(arrowstyle="<|-|>", color=LIME_BOX, lw=3, mutation_scale=22,
                               shrinkA=0, shrinkB=0), zorder=6)

# EJ power
ax_tr.add_patch(Rectangle((308.5, 0.34), 318.5, 1.815, fill=False, edgecolor=MAG_BOX, lw=1.6, zorder=5))
ax_tr.text(326.5, 1.41, r"$<\ P\ >\!\approx\ 0.65P_0,$", fontsize=32, ha="left", va="baseline", **math_kw)
ax_tr.text(326.5, 0.63, r"$P_{rms}$ $\approx$0.1$<\ P\ >$", fontsize=32, ha="left", va="baseline",
           family=table_font, **math_kw)
ax_tr.annotate("", xy=(486.6, 5.1), xytext=(486.6, 3.11),
               arrowprops=dict(arrowstyle="<|-|>", color=MAG_BOX, lw=3, mutation_scale=22,
                               shrinkA=0, shrinkB=0), zorder=6)

# ATJ pulse width
ax_bl.add_patch(Rectangle((174.2, 174.7), 426.8, 16.8, fill=False, edgecolor=LIME_BOX, lw=1.6, zorder=5))
ax_bl.text(387.6, 183.1, r"$\sigma_{\tau_{rms}}\ \leq\ 0.05\ <\ \sigma_\tau\ >$", fontsize=36,
           ha="center", va="center", **math_kw)
bl_aspect = (748.0 / 660.0) / (401.5 / (200.4 - 119.7))
ax_bl.add_patch(FancyBboxPatch((306.7, 149.0), 296.3, 20.2,
                               boxstyle="round,pad=0,rounding_size=13",
                               mutation_aspect=bl_aspect, fill=False, edgecolor="black",
                               lw=1.4, linestyle=(0, (9, 3.5, 1.5, 3.5)), zorder=6))

# EJ pulse width
ax_br.add_patch(Rectangle((206.5, 173.25), 410.2, 16.65, fill=False, edgecolor=MAG_BOX, lw=1.6, zorder=5))
ax_br.text(411.6, 181.6, r"$\sigma_{\tau_{rms}}\ \leq\ 0.01\ <\ \sigma_\tau\!>$", fontsize=36,
           ha="center", va="center", **math_kw)

# vertical dash-dot markers at pass 300 spanning beyond the panels
for ax, y0, y1 in [(ax_tl, 104, 653), (ax_tr, 110, 659), (ax_br, 698, 1248)]:
    blend = mtransforms.blended_transform_factory(ax.transData, px)
    fig.add_artist(Line2D([300, 300], [y0, y1], transform=blend, color="black", lw=1.0,
                          linestyle=(0, (9, 3, 1.5, 3)), zorder=20))

fig.savefig("out.png", dpi=100)
